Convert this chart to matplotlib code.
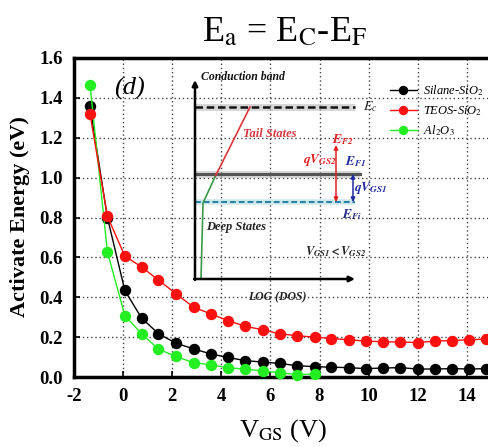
import matplotlib
matplotlib.use("Agg")
import matplotlib.pyplot as plt
from matplotlib.lines import Line2D

plt.rcParams['font.family'] = ['Liberation Serif', 'DejaVu Serif']
plt.rcParams['mathtext.fontset'] = 'stix'
plt.rcParams['axes.unicode_minus'] = False

# ---- data ----
vgs = [-1.35, -0.64, 0.07, 0.75, 1.44, 2.15, 2.87, 3.56, 4.27, 4.98, 5.69, 6.37,
       7.07, 7.8, 8.48, 9.18, 9.88, 10.58, 11.29, 12.0, 12.7, 13.4, 14.1, 14.78]
silane = [1.36, 0.80, 0.434, 0.296, 0.217, 0.170, 0.141, 0.116, 0.098, 0.082, 0.075, 0.068,
          0.057, 0.052, 0.049, 0.047, 0.042, 0.045, 0.047, 0.040, 0.040, 0.042, 0.040, 0.042]
teos = [1.32, 0.806, 0.607, 0.552, 0.486, 0.418, 0.350, 0.317, 0.283, 0.254, 0.237, 0.217,
        0.207, 0.200, 0.193, 0.187, 0.180, 0.177, 0.175, 0.173, 0.180, 0.183, 0.187, 0.190]
vgs_al = vgs[:14]
al2o3 = [1.466, 0.628, 0.308, 0.217, 0.140, 0.103, 0.072, 0.061, 0.047, 0.039, 0.030, 0.022,
         0.012, 0.015]
labels = ['Silane-SiO$_2$', 'TEOS-SiO$_2$', 'Al$_2$O$_3$']
xticks = [-2, 0, 2, 4, 6, 8, 10, 12, 14]
yticks = [0.0, 0.2, 0.4, 0.6, 0.8, 1.0, 1.2, 1.4, 1.6]

W, H = 488, 447
fig = plt.figure(figsize=(W / 100, H / 100), dpi=100)

L, R, T, B = 74, 488, 58, 377
ax = fig.add_axes([L / W, 1 - B / H, (R - L) / W, (B - T) / H])

BLACK, RED, GREEN = '#000000', '#ff1010', '#22ee22'
ms = 7.2
l1, = ax.plot(vgs, silane, '-o', color=BLACK, lw=1.0, ms=ms, clip_on=False, zorder=3)
l3, = ax.plot(vgs_al, al2o3, '-o', color=GREEN, lw=1.0, ms=ms, clip_on=False, zorder=4)
l2, = ax.plot(vgs, teos, '-o', color=RED, lw=1.0, ms=ms, clip_on=False, zorder=5)

ax.set_xlim(-2, 14.86)
ax.set_ylim(0, 1.6)
ax.set_xticks(xticks)
ax.set_xticklabels([str(v) for v in xticks])
ax.set_yticks(yticks)
ax.set_yticklabels([f'{v:.1f}' for v in yticks])
ax.tick_params(direction='in', length=4, width=1.2, labelsize=13.5, pad=8)
for lab in ax.get_xticklabels() + ax.get_yticklabels():
    lab.set_fontweight('bold')
ax.grid(True, linestyle=(0, (1, 2)), color='#444444', lw=1.0)
for s in ['left', 'bottom', 'top']:
    ax.spines[s].set_linewidth(2.5)
ax.spines['right'].set_visible(False)

leg = ax.legend([l1, l2, l3], labels, loc='upper left', bbox_to_anchor=(0.735, 0.955),
                frameon=False, prop={'style': 'italic', 'size': 9},
                handlelength=2.2, labelspacing=0.45, handletextpad=0.5, markerscale=0.8)

ax.text(0.135, 0.905, '(d)', transform=ax.transAxes, fontsize=19, style='italic',
        ha='center', va='center')

fig.text(285 / W, 1 - 33 / H, r'E$_{\rm a}$ = E$_{\rm C}$-E$_{\rm F}$', fontsize=26,
         ha='center', va='center')
fig.text(20 / W, 1 - 217 / H, 'Activate Energy (eV)', rotation=90, fontsize=16,
         fontweight='bold', ha='center', va='center')
fig.text(283 / W, 1 - 431 / H, r'V$_{\rm GS}$ (V)', fontsize=19, ha='center', va='center')

# ---- inset schematic (pixel coordinates overlay) ----
ov = fig.add_axes([0, 0, 1, 1], facecolor='none')
ov.set_xlim(0, W)
ov.set_ylim(H, 0)
ov.axis('off')

def arrow(x0, y0, x1, y1, color, style='-|>', lw=1.6, ms=10):
    ov.annotate('', xy=(x1, y1), xytext=(x0, y0),
                arrowprops=dict(arrowstyle=style, color=color, lw=lw,
                                shrinkA=0, shrinkB=0, mutation_scale=ms))

# shading bands
ov.plot([195, 355], [107, 107], color='#bbbbbb', lw=5, alpha=0.6, solid_capstyle='butt')
ov.plot([195, 360], [174, 174], color='#bbbbbb', lw=5, alpha=0.6, solid_capstyle='butt')
ov.plot([195, 355], [202, 202], color='#a8d8e0', lw=4, alpha=0.6, solid_capstyle='butt')
# lines
ov.plot([195, 355], [107, 107], color='#111111', lw=1.8, ls=(0, (3, 1.5)))
ov.plot([195, 360], [174, 174], color='#555555', lw=2.2)
ov.plot([195, 355], [202, 202], color='#2a7fa0', lw=1.4, ls=(0, (3, 1.5)))
ov.plot([215, 250], [177, 107], color='#d9363e', lw=1.2)
ov.plot([215, 203, 201], [177, 203, 279], color='#3a9a4a', lw=1.2)
# axes arrows
arrow(195, 280, 195, 80, 'black', lw=1.8, ms=8)
arrow(194, 279, 355, 279, 'black', lw=1.8, ms=8)
# Fermi level arrows
arrow(336, 202, 336, 145, '#e02020', style='<|-|>', lw=1.1, ms=6)
arrow(353, 202, 353, 174, '#1f2aa0', style='<|-|>', lw=1.1, ms=6)

fs = 8.5
ov.text(243, 77, 'Conduction band', fontsize=fs, fontweight='bold', style='italic',
        ha='center', va='center', color='#111111')
ov.text(363, 107, r'$E_c$', fontsize=10, ha='left', va='center', color='#222222')
ov.text(270, 134, 'Tail States', fontsize=fs + 0.5, fontweight='bold', style='italic',
        ha='center', va='center', color='#d9363e')
ov.text(343, 140, r'$\mathbfit{E_{F2}}$', fontsize=9.5, ha='center', va='center', color='#e02020')
ov.text(320, 160, r'$\mathbfit{qV_{GS2}}$', fontsize=9.5, ha='center', va='center', color='#e02020')
ov.text(356, 162, r'$\mathbfit{E_{F1}}$', fontsize=9.5, ha='center', va='center', color='#1f2aa0')
ov.text(371, 188, r'$\mathbfit{qV_{GS1}}$', fontsize=9.5, ha='center', va='center', color='#1f2aa0')
ov.text(352, 215, r'$\mathbfit{E_{Fi}}$', fontsize=9.5, ha='center', va='center', color='#1f2a80')
ov.text(236, 227, 'Deep States', fontsize=fs + 0.5, fontweight='bold', style='italic',
        ha='center', va='center', color='#222222')
ov.text(336, 252, r'$\mathbfit{V_{GS1}<V_{GS2}}$', fontsize=9, ha='center',
        va='center', color='#222222')
ov.text(277, 297, 'LOG (DOS)', fontsize=fs, fontweight='bold', style='italic',
        ha='center', va='center', color='#222222')

fig.savefig('out.png', dpi=100)
